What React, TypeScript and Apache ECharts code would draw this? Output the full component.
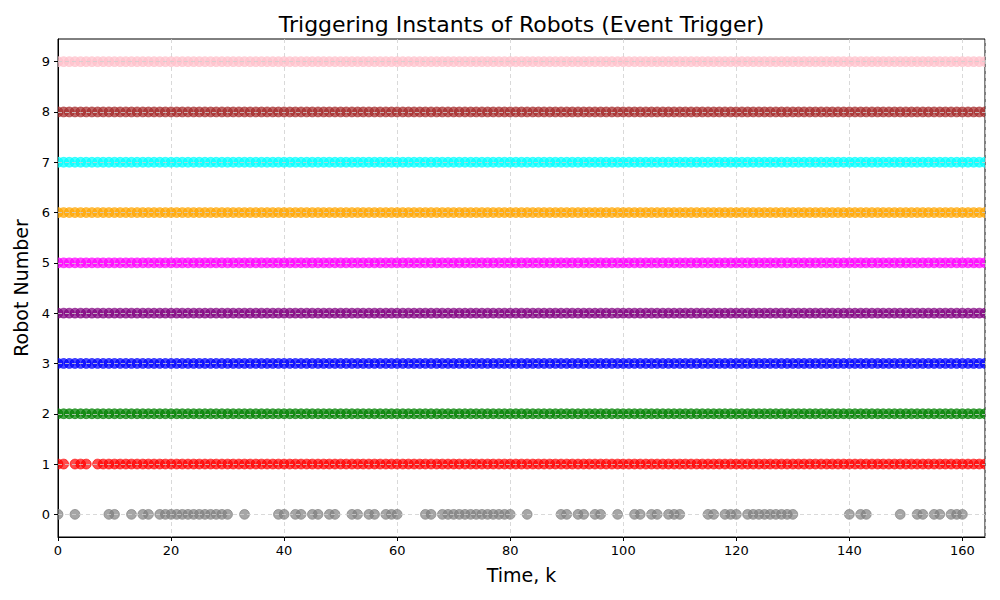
import React, { useEffect, useRef } from "react";
import * as echarts from "echarts";

// Trigger instants
const robot0Times = [
  0, 3, 9, 10, 13, 15, 16, 18, 19, 20, 21, 22, 23, 24, 25, 26, 27, 28, 29, 30, 33, 39, 40, 42, 43,
  45, 46, 48, 49, 52, 53, 55, 56, 58, 59, 60, 65, 66, 68, 69, 70, 71, 72, 73, 74, 75, 76, 77, 78,
  79, 80, 83, 89, 90, 92, 93, 95, 96, 99, 102, 103, 105, 106, 108, 109, 110, 115, 116, 118, 119,
  120, 122, 123, 124, 125, 126, 127, 128, 129, 130, 140, 142, 143, 149, 152, 153, 155, 156, 158,
  159, 160,
];
// Inclusive ranges of consecutive triggering steps
const robot1Ranges = [[0, 1], [3, 5], [7, 164]];
const everyStepRange = [[0, 164]];
const robotRanges = [
  null, robot1Ranges, everyStepRange, everyStepRange, everyStepRange,
  everyStepRange, everyStepRange, everyStepRange, everyStepRange, everyStepRange,
];
const robotColors = [
  "128,128,128", "255,0,0", "0,128,0", "0,0,255", "128,0,128",
  "255,0,255", "255,165,0", "0,255,255", "165,42,42", "255,192,203",
];
const xTicks = [0, 20, 40, 60, 80, 100, 120, 140, 160];
const yTicks = [0, 1, 2, 3, 4, 5, 6, 7, 8, 9];
const titleText = "Triggering Instants of Robots (Event Trigger)";

function expand(ranges: number[][]): number[] {
  const out: number[] = [];
  ranges.forEach(([a, b]) => {
    for (let k = a; k <= b; k++) out.push(k);
  });
  return out;
}

const FONT = "DejaVu Sans";
const GRID_LINE = { color: "#cfcfcf", type: [4, 3] as any, width: 0.8 };

export default function App() {
  const ref = useRef<HTMLDivElement>(null);
  useEffect(() => {
    document.body.style.margin = "0";
    const chart = echarts.init(ref.current!, null, { renderer: "svg" });
    const series: any[] = yTicks.map((robot) => {
      const times = robot === 0 ? robot0Times : expand(robotRanges[robot] as number[][]);
      const c = robotColors[robot];
      return {
        type: "custom",
        name: "Robot " + robot,
        data: times.map((t) => [t, robot]),
        clip: true,
        z: 3,
        encode: { x: 0, y: 1 },
        renderItem: (params: any, api: any) => {
          const p = api.coord([api.value(0), api.value(1)]);
          return {
            type: "circle",
            shape: { cx: p[0], cy: p[1], r: 4.9 },
            style: {
              fill: `rgba(${c},0.7)`,
              stroke: `rgba(${c},0.7)`,
              lineWidth: 1,
            },
          };
        },
      };
    });
    series.push({
      type: "line",
      data: [],
      silent: true,
      z: 1,
      markLine: {
        silent: true,
        symbol: "none",
        label: { show: false },
        lineStyle: GRID_LINE,
        data: yTicks.map((y) => ({ yAxis: y })),
      },
    });
    chart.setOption({
      animation: false,
      graphic: [
        {
          type: "text",
          x: 521.5,
          y: 24,
          style: {
            text: titleText,
            textAlign: "center",
            textVerticalAlign: "middle",
            fontFamily: FONT,
            fontSize: 22,
            fill: "#000",
          },
        },
      ],
      grid: {
        left: 58,
        right: 15,
        top: 39,
        bottom: 63,
        show: true,
        borderColor: "#000",
        borderWidth: 1,
        backgroundColor: "transparent",
      },
      xAxis: {
        type: "value",
        min: 0,
        max: 164,
        interval: 20,
        name: "Time, k",
        nameLocation: "middle",
        nameGap: 28,
        nameTextStyle: { fontFamily: FONT, fontSize: 19, color: "#000" },
        axisLine: { show: true, onZero: false, lineStyle: { color: "#000", width: 1 } },
        axisTick: { show: true, inside: false, length: 4, lineStyle: { color: "#000" } },
        axisLabel: { fontFamily: FONT, fontSize: 13, color: "#000", margin: 7, showMaxLabel: false },
        splitLine: { show: true, lineStyle: GRID_LINE },
      },
      yAxis: {
        type: "value",
        min: -0.45,
        max: 9.45,
        name: "Robot Number",
        nameLocation: "middle",
        nameGap: 28,
        nameTextStyle: { fontFamily: FONT, fontSize: 19, color: "#000" },
        axisLine: { show: true, onZero: false, lineStyle: { color: "#000", width: 1 } },
        axisTick: { show: true, inside: false, length: 4, lineStyle: { color: "#000" }, customValues: yTicks },
        axisLabel: { fontFamily: FONT, fontSize: 13, color: "#000", margin: 8, customValues: yTicks },
        splitLine: { show: false },
      },
      series,
    });
    return () => chart.dispose();
  }, []);
  return <div ref={ref} style={{ width: 1000, height: 600, position: "absolute", left: 0, top: 0 }} />;
}
